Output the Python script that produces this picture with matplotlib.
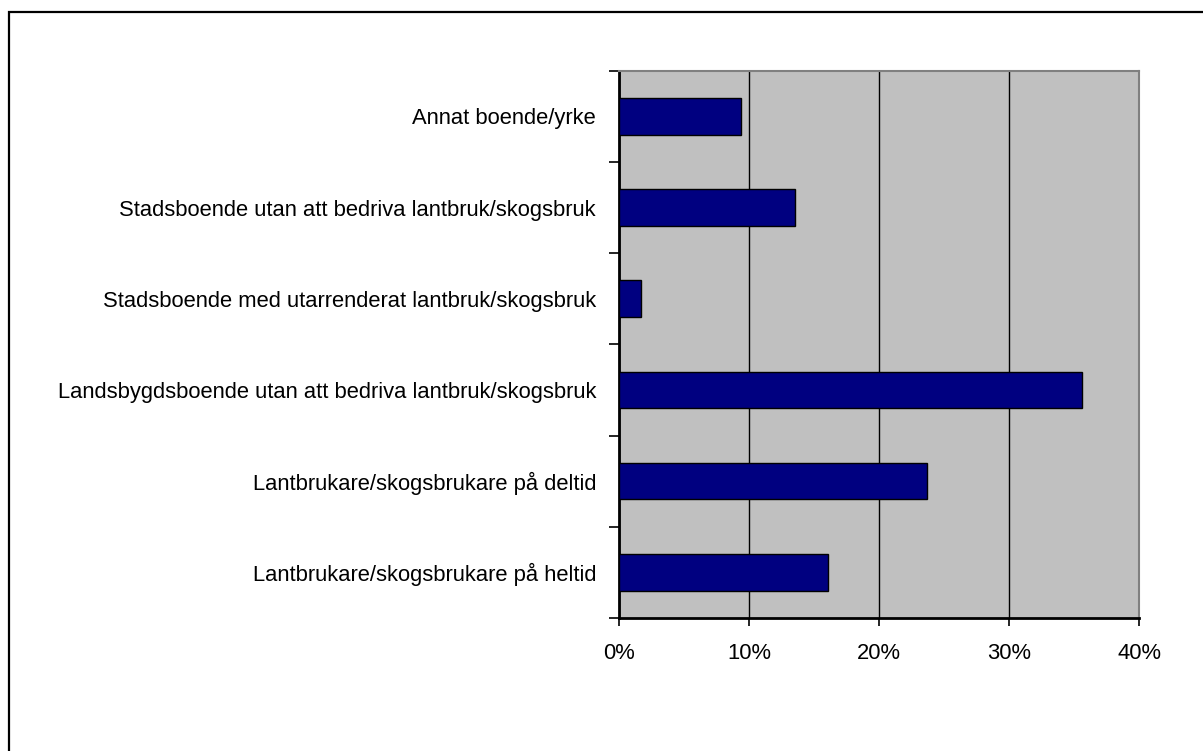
import matplotlib.pyplot as plt
from matplotlib.patches import Rectangle
from matplotlib.ticker import FuncFormatter

plt.rcParams['font.family'] = ['Liberation Sans', 'DejaVu Sans']

# Data (bottom to top)
categories = [
    "Lantbrukare/skogsbrukare på heltid",
    "Lantbrukare/skogsbrukare på deltid",
    "Landsbygdsboende utan att bedriva lantbruk/skogsbruk",
    "Stadsboende med utarrenderat lantbruk/skogsbruk",
    "Stadsboende utan att bedriva lantbruk/skogsbruk",
    "Annat boende/yrke",
]
shares = [16.1, 23.7, 35.6, 1.7, 13.5, 9.4]
xticks = [0, 10, 20, 30, 40]

W, H = 1203, 751
fig = plt.figure(figsize=(W / 100, H / 100), dpi=100)
fig.patch.set_facecolor("white")

# outer chart frame (cut off at right and bottom)
frame = Rectangle((9 / W, -0.02), 1.1, 1 - 12 / H + 0.02, transform=fig.transFigure,
                  fill=False, edgecolor="black", linewidth=1.6, zorder=0)
fig.patches.append(frame)

ax = fig.add_axes([619 / W, 1 - 618 / H, (1139 - 619) / W, (618 - 70.7) / H])
ax.set_facecolor("#c0c0c0")

y = range(len(categories))
ax.barh(y, shares, height=0.4, color="#000080", edgecolor="black", linewidth=1.0, zorder=3)

ax.set_xlim(0, 40)
ax.set_ylim(-0.5, len(categories) - 0.5)
ax.set_xticks(xticks)
ax.xaxis.set_major_formatter(FuncFormatter(lambda v, p: f"{v:.0f}%"))
ax.grid(axis="x", color="black", linewidth=1.0, zorder=1)
ax.set_axisbelow(True)

# category labels sit between boundary ticks
ax.set_yticks([i - 0.5 for i in range(len(categories) + 1)])
ax.set_yticklabels([])
ax.set_yticks(list(y), minor=True)
ax.set_yticklabels(categories, minor=True, fontsize=15.8)
ax.tick_params(axis="y", which="minor", length=0, pad=16.5)
ax.tick_params(axis="y", which="major", direction="out", length=7, width=1.2, color="black")
ax.tick_params(axis="x", direction="out", length=6, width=1.2, pad=12, labelsize=15.8)

for s in ["left", "bottom"]:
    ax.spines[s].set_color("black")
    ax.spines[s].set_linewidth(2)
for s in ["top", "right"]:
    ax.spines[s].set_color("#808080")
    ax.spines[s].set_linewidth(1.5)

fig.savefig("out.png", dpi=100)
